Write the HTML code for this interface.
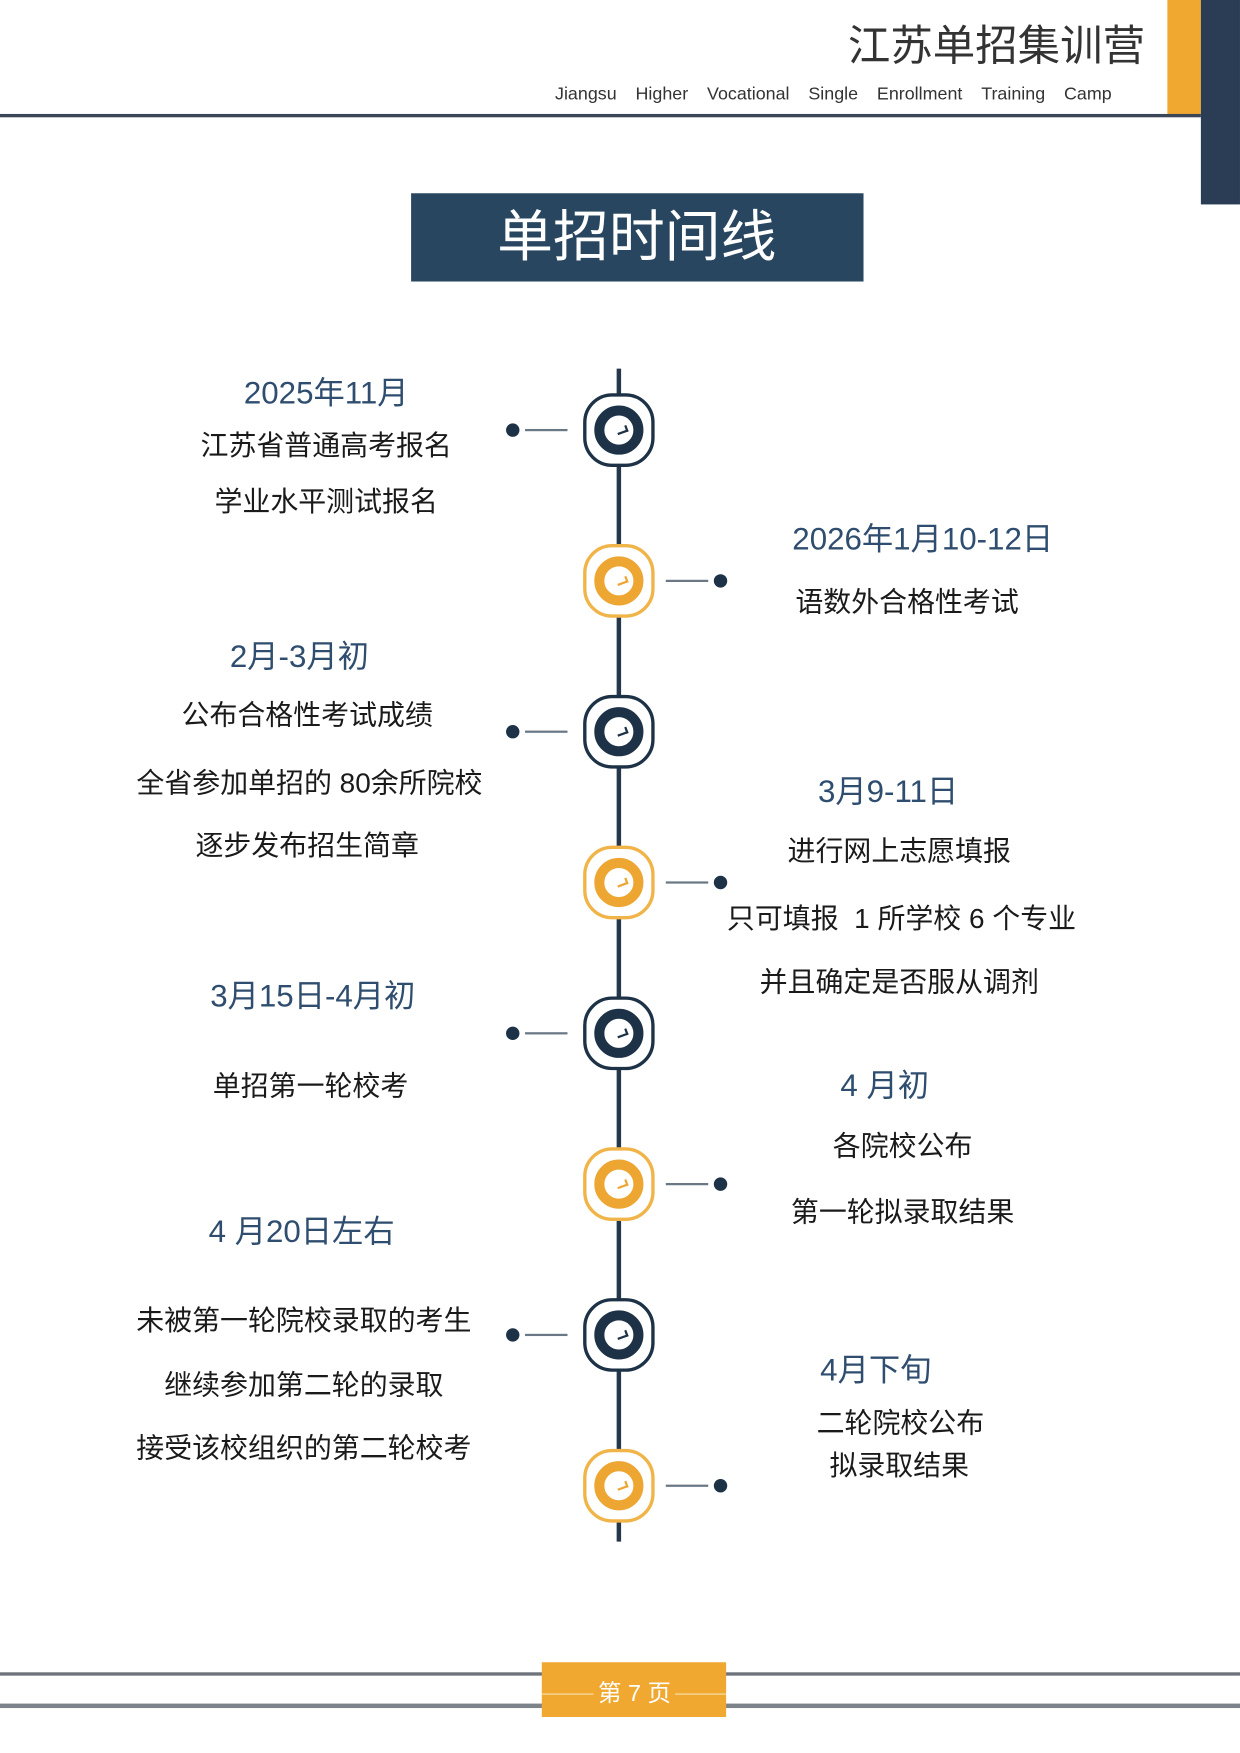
<!DOCTYPE html>
<html><head><meta charset="utf-8"><style>
html,body{margin:0;padding:0;background:#fff;width:1240px;height:1753px;overflow:hidden}
#c{position:absolute;left:0;top:0;width:1110px;height:1569px;transform:scale(1.1171);transform-origin:0 0;font-family:"Liberation Sans","Noto Sans CJK SC",sans-serif}
.a{position:absolute}
.t{position:absolute;white-space:nowrap;transform:translate(-50%,-50%);line-height:1}
.d{color:#2f4d6e;font-size:28px}
.b{color:#1a1a1a;font-size:25px}
.node{position:absolute;width:64px;height:66px;margin-left:-32px;margin-top:-33px;border:3px solid;border-radius:26px;box-sizing:border-box;background:#fff}
.node .in{position:absolute;left:50%;top:50%;width:44px;height:44px;margin:-22px 0 0 -22px;border:9px solid;border-radius:50%;box-sizing:border-box}
.node .h{position:absolute;left:11px;top:10px;width:8px;height:4px;border-bottom:2.5px solid;border-right:2.5px solid;transform:rotate(-20deg)}
.n{border-color:#1d3246;color:#1d3246}
.o{border-color:#f0b448;color:#eea633}
.o .in{border-color:#eea633}
.n .in{border-color:#1d3246}
.dot{position:absolute;width:12px;height:12px;border-radius:50%;background:#1d3246;margin:-6px 0 0 -6px}
.ln{position:absolute;height:2px;background:#6a7784;margin-top:-1px}
</style></head><body><div id="c">
<div class="a" style="left:1045px;top:0;width:30px;height:103px;background:#f0a830"></div>
<div class="a" style="left:1075px;top:0;width:35px;height:183px;background:#2a3d55"></div>
<div class="a" style="left:0;top:102px;width:1075px;height:3px;background:#3a4658"></div>
<div class="t" style="left:892px;top:42px;font-size:38px;color:#333">江苏单招集训营</div>
<div class="t" style="left:746px;top:85px;font-size:16px;color:#333;word-spacing:4px">Jiangsu &nbsp;Higher &nbsp;Vocational &nbsp;Single &nbsp;Enrollment &nbsp;Training &nbsp;Camp</div>
<div class="a" style="left:368px;top:173px;width:405px;height:79px;background:#28465f"></div>
<div class="t" style="left:570px;top:212px;font-size:50px;color:#fff">单招时间线</div>
<div class="a" style="left:552px;top:330px;width:4px;height:1050px;background:#25374a"></div>

<div class="node n" style="left:554px;top:385px"><div class="in"><div class="h"></div></div></div>
<div class="node o" style="left:554px;top:520px"><div class="in"><div class="h"></div></div></div>
<div class="node n" style="left:554px;top:655px"><div class="in"><div class="h"></div></div></div>
<div class="node o" style="left:554px;top:790px"><div class="in"><div class="h"></div></div></div>
<div class="node n" style="left:554px;top:925px"><div class="in"><div class="h"></div></div></div>
<div class="node o" style="left:554px;top:1060px"><div class="in"><div class="h"></div></div></div>
<div class="node n" style="left:554px;top:1195px"><div class="in"><div class="h"></div></div></div>
<div class="node o" style="left:554px;top:1330px"><div class="in"><div class="h"></div></div></div>

<div class="dot" style="left:459px;top:385px"></div><div class="ln" style="left:470px;top:385px;width:38px"></div>
<div class="dot" style="left:459px;top:655px"></div><div class="ln" style="left:470px;top:655px;width:38px"></div>
<div class="dot" style="left:459px;top:925px"></div><div class="ln" style="left:470px;top:925px;width:38px"></div>
<div class="dot" style="left:459px;top:1195px"></div><div class="ln" style="left:470px;top:1195px;width:38px"></div>
<div class="dot" style="left:645px;top:520px"></div><div class="ln" style="left:596px;top:520px;width:38px"></div>
<div class="dot" style="left:645px;top:790px"></div><div class="ln" style="left:596px;top:790px;width:38px"></div>
<div class="dot" style="left:645px;top:1060px"></div><div class="ln" style="left:596px;top:1060px;width:38px"></div>
<div class="dot" style="left:645px;top:1330px"></div><div class="ln" style="left:596px;top:1330px;width:38px"></div>

<div class="t d" style="left:292px;top:352px">2025年11月</div>
<div class="t b" style="left:292px;top:400px">江苏省普通高考报名</div>
<div class="t b" style="left:292px;top:450px">学业水平测试报名</div>
<div class="t d" style="left:826px;top:483px">2026年1月10-12日</div>
<div class="t b" style="left:812px;top:540px">语数外合格性考试</div>
<div class="t d" style="left:268px;top:588px">2月-3月初</div>
<div class="t b" style="left:275px;top:641px">公布合格性考试成绩</div>
<div class="t b" style="left:277px;top:702px">全省参加单招的 80余所院校</div>
<div class="t b" style="left:275px;top:758px">逐步发布招生简章</div>
<div class="t d" style="left:795px;top:709px">3月9-11日</div>
<div class="t b" style="left:805px;top:763px">进行网上志愿填报</div>
<div class="t b" style="left:807px;top:823px">只可填报 &nbsp;1 所学校 6 个专业</div>
<div class="t b" style="left:805px;top:880px">并且确定是否服从调剂</div>
<div class="t d" style="left:280px;top:892px">3月15日-4月初</div>
<div class="t b" style="left:278px;top:973px">单招第一轮校考</div>
<div class="t d" style="left:792px;top:972px">4 月初</div>
<div class="t b" style="left:808px;top:1027px">各院校公布</div>
<div class="t b" style="left:808px;top:1086px">第一轮拟录取结果</div>
<div class="t d" style="left:270px;top:1103px">4 月20日左右</div>
<div class="t b" style="left:272px;top:1183px">未被第一轮院校录取的考生</div>
<div class="t b" style="left:272px;top:1241px">继续参加第二轮的录取</div>
<div class="t b" style="left:272px;top:1297px">接受该校组织的第二轮校考</div>
<div class="t d" style="left:784px;top:1227px">4月下旬</div>
<div class="t b" style="left:806px;top:1275px">二轮院校公布</div>
<div class="t b" style="left:805px;top:1313px">拟录取结果</div>

<div class="a" style="left:0;top:1497px;width:1110px;height:3px;background:#6d737b"></div>
<div class="a" style="left:0;top:1525px;width:1110px;height:4px;background:#7d838b"></div>
<div class="a" style="left:485px;top:1488px;width:165px;height:49px;background:#f0a830"></div>
<div class="a" style="left:485px;top:1516px;width:165px;height:1px;background:#f8e2b0"></div>
<div class="t" style="left:568px;top:1516px;font-size:21px;color:#fff;background:#f0a830;padding:0 4px">第 7 页</div>
</div></body></html>
